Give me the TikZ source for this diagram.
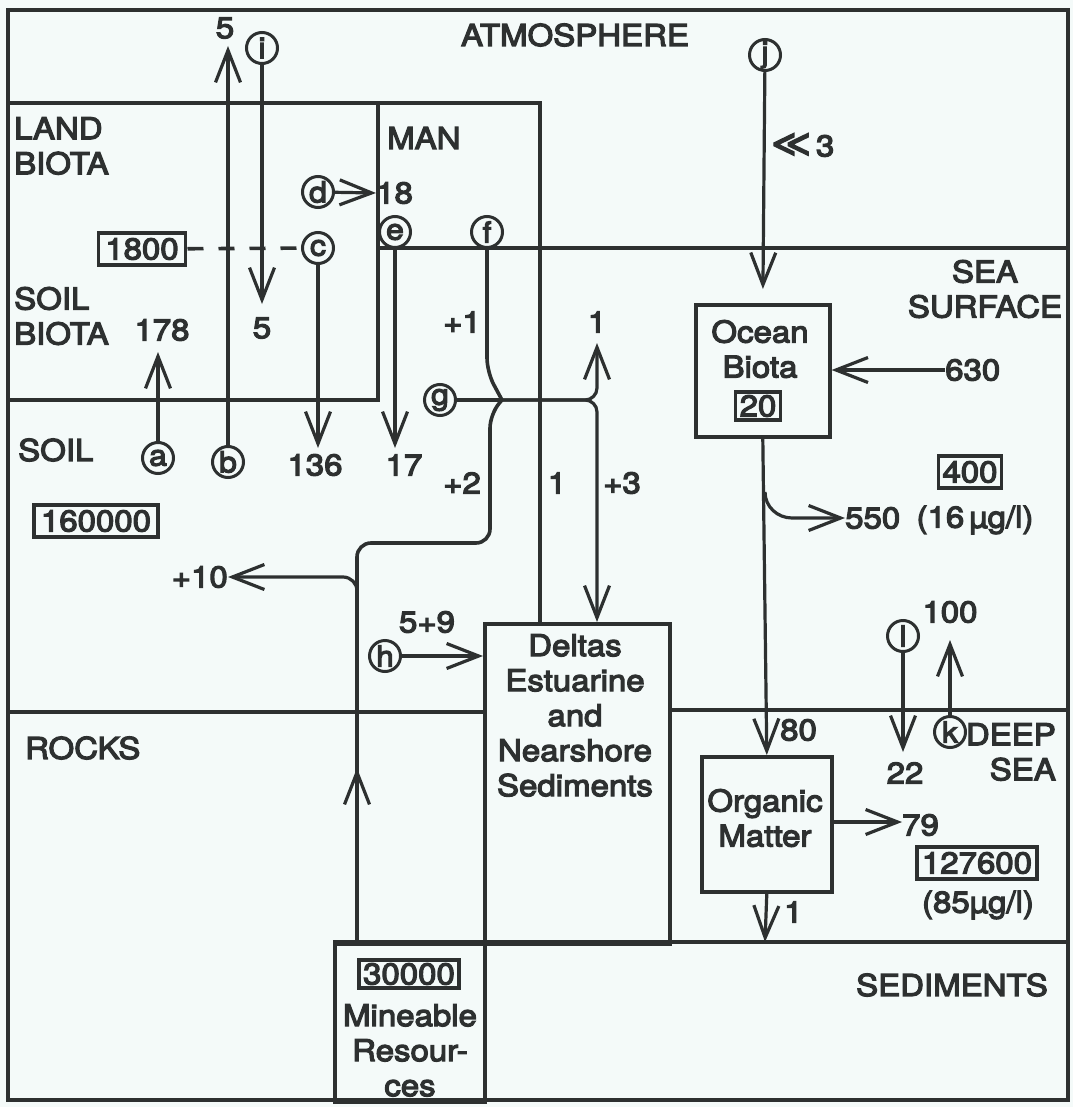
\documentclass[tikz,border=0pt]{standalone}
\usepackage{fontspec}
\setmainfont{TeX Gyre Heros}[FakeStretch=1.1,FakeBold=4]
\newfontfamily\symfont{DejaVu Sans}[FakeBold=3]
\usetikzlibrary{arrows.meta}
\definecolor{ink}{RGB}{45,48,48}
\definecolor{paper}{RGB}{244,250,249}
\begin{document}
\begin{tikzpicture}[x=1pt,y=-1pt,
  ln/.style={draw=ink,line width=3.6pt},
  arr/.style={draw=ink,line width=3.2pt,-{Straight Barb[length=32pt,width=25pt,line width=3.2pt]}},
  lbl/.style={text=ink,font=\fontsize{30}{35}\selectfont,inner sep=0pt},
  circ/.style={circle,draw=ink,line width=3pt,minimum size=31pt,inner sep=0pt,text=ink,font=\fontsize{29}{29}\selectfont},
  valbox/.style={draw=ink,line width=3.6pt,text=ink,font=\fontsize{30}{35}\selectfont,inner xsep=7pt,inner ysep=5pt},
  bigbox/.style={draw=ink,line width=3.6pt},
  ]
\fill[paper] (0,0) rectangle (1073,1107);
\useasboundingbox (0,0) rectangle (1073,1107);
% frame and region borders
\draw[ln] (8,10) rectangle (1068,1100);
\draw[ln] (8,103) -- (540,103) -- (540,622);
\draw[ln] (378,103) -- (378,400) -- (8,400);
\draw[ln] (378,248) -- (1068,248);
\draw[ln] (8,712) -- (483,712);
\draw[ln] (668,710) -- (1068,710);
\draw[ln] (333,942) -- (1068,942);
% boxes
\node[bigbox,minimum width=185pt,minimum height=320pt,anchor=north west] (deltas) at (483,622) {};
\node[bigbox,minimum width=150pt,minimum height=158pt,anchor=north west] (mine) at (333,942) {};
\node[bigbox,minimum width=134pt,minimum height=132pt,anchor=north west] (obiota) at (694,303) {};
\node[bigbox,minimum width=130pt,minimum height=135pt,anchor=north west] (omatter) at (700,755) {};
% box texts
\node[lbl,align=center,anchor=north] (deltastxt) at (575,634) {Deltas\\Estuarine\\and\\Nearshore\\Sediments};
\node[lbl,align=center] (obtxt) at (760,349) {Ocean\\Biota};
\node[valbox,inner xsep=4pt,inner ysep=3pt] (v20) at (758,406) {20};
\node[lbl,align=center] (omtxt) at (765,818) {Organic\\Matter};
\node[valbox,inner xsep=4pt,inner ysep=3pt] (v30000) at (409,974) {30000};
\node[lbl,align=center,anchor=north] (minetxt) at (410,1004) {Mineable\\Resour-\\ces};
% region labels
\node[lbl] (atm) at (575,35) {ATMOSPHERE};
\node[lbl,align=left,anchor=west] (landb) at (14,146) {LAND\\BIOTA};
\node[lbl,align=left,anchor=west] (soilb) at (14,316) {SOIL\\BIOTA};
\node[lbl,anchor=west] (man) at (387,138) {MAN};
\node[lbl,anchor=west] (soil) at (18,450) {SOIL};
\node[lbl,anchor=west] (rocks) at (25,748) {ROCKS};
\node[lbl,align=center] (seasurf) at (985,289) {SEA\\SURFACE};
\node[lbl,align=right,anchor=east] (deepsea) at (1056,752) {DEEP\\SEA};
\node[lbl] (sedim) at (952,985) {SEDIMENTS};
% value boxes
\node[valbox] (v1800) at (142,249) {1800};
\node[valbox] (v160000) at (96,521) {160000};
\node[valbox,inner xsep=4pt] (v400) at (970,472) {400};
\node[valbox,inner xsep=5pt] (v127600) at (977,863) {127600};
\node[lbl] (c16) at (975,520) {(16\,µg/l)};
\node[lbl] (c85) at (978,905) {(85µg/l)};
% circled letters
\node[circ] (a) at (158,458) {a};
\node[circ] (b) at (228,462) {b};
\node[circ] (c) at (318,248) {c};
\node[circ] (d) at (318,192) {d};
\node[circ] (e) at (395,232) {e};
\node[circ] (f) at (487,232) {f};
\node[circ] (g) at (440,400) {g};
\node[circ] (h) at (385,656) {h};
\node[circ] (i) at (262,48) {i};
\node[circ] (j) at (765,55) {j};
\node[circ] (k) at (950,732) {k};
\node[circ] (l) at (903,636) {l};
% flow labels
\node[lbl] (n5top) at (225,28) {5};
\node[lbl] (n5low) at (262,328) {5};
\node[lbl] (n178) at (162,330) {178};
\node[lbl] (n136) at (315,465) {136};
\node[lbl] (n17) at (404,465) {17};
\node[lbl,anchor=west] (n18) at (376,193) {18};
\node[lbl] (np1) at (462,322) {+1};
\node[lbl] (np2) at (462,483) {+2};
\node[lbl] (n1a) at (557,483) {1};
\node[lbl] (np3) at (622,483) {+3};
\node[lbl] (n1b) at (597,322) {1};
\node[lbl,anchor=east] (np10) at (228,577) {+10};
\node[lbl] (n59) at (427,622) {5+9};
\node[lbl,anchor=west] (n3) at (771,145) {{\symfont\fontsize{38}{38}\selectfont ≪}\,3};
\node[lbl,anchor=west] (n630) at (945,370) {630};
\node[lbl,anchor=west] (n550) at (845,518) {550};
\node[lbl,anchor=west] (n80) at (780,730) {80};
\node[lbl,anchor=west] (n79) at (902,825) {79};
\node[lbl,anchor=west] (n1c) at (784,912) {1};
\node[lbl] (n22) at (905,773) {22};
\node[lbl] (n100) at (950,612) {100};
% junction and helper coordinates
\coordinate (J) at (502,400);
\coordinate (fbend) at (487,372);
\coordinate (gR) at (597,400);
\coordinate (up1) at (597,343);
\coordinate (deltop) at (597,622);
\coordinate (mineup) at (357,942);
\coordinate (minetip) at (357,768);
% land arrows
\draw[arr] (b) -- (228,46);
\draw[arr] (i) -- (262,304);
\draw[arr] (a) -- (158,352);
\draw[arr] (c) -- (318,448);
\draw[arr] (d) -- (n18.west);
\draw[arr] (e) -- (395,448);
\draw[ln,dash pattern=on 16pt off 15pt] (v1800) -- (c);
% man to deltas network
\draw[ln,rounded corners=14pt] (f) -- (fbend) -- (J);
\draw[ln] (g) -- (J);
\draw[arr,rounded corners=12pt] (J) -- (gR) -- (up1);
\draw[arr,rounded corners=12pt] (J) -- (gR) -- (deltop);
\draw[ln,rounded corners=14pt] (J) -- (490,414) -- (490,543) -- (357,543) -- (mineup);
\draw[arr,rounded corners=14pt] (357,612) -- (357,577) -- (np10.east);
\draw[arr] (mineup) -- (minetip);
\draw[arr] (h) -- (h -| deltas.west);
% ocean arrows
\draw[arr,shorten >=14pt] (j) -- (obiota.north);
\draw[arr] (n630.west) -- (obiota.east |- n630.west);
\draw[arr] (obiota.south) -- (omatter.north);
\draw[arr] (765,492) to[out=-90,in=180] (792,518) -- (n550.west);
\draw[arr] (omatter.east |- 0,822) -- (n79.west |- 0,822);
\draw[arr] (omatter.south) -- (765,942);
\draw[arr] (l) -- (903,752);
\draw[arr] (k) -- (950,640);
\end{tikzpicture}
\end{document}
